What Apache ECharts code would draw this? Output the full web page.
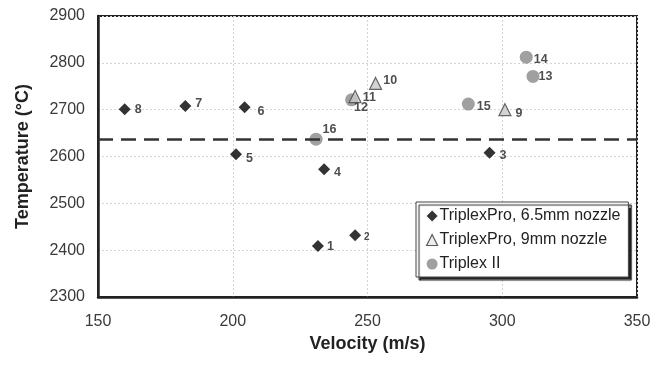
<!DOCTYPE html>
<html>
<head>
<meta charset="utf-8">
<script src="https://cdn.jsdelivr.net/npm/echarts@6/dist/echarts.min.js"></script>
<style>html,body{margin:0;padding:0;background:#fff}#c{width:666px;height:369px}</style>
</head>
<body>
<div id="c"></div>
<script>
// ---- data ----
var seriesNames = ['TriplexPro, 6.5mm nozzle', 'TriplexPro, 9mm nozzle', 'Triplex II'];
var idsA = [1, 2, 3, 4, 5, 6, 7, 8];
var velA = [231.6, 245.4, 295.3, 233.9, 201.2, 204.4, 182.4, 159.9];
var tempA = [2409, 2432, 2608, 2573, 2605, 2705, 2708, 2701];
var idsB = [9, 10, 11];
var velB = [301, 253, 245.4];
var tempB = [2700, 2756, 2728];
var idsC = [12, 13, 14, 15, 16];
var velC = [244.1, 311.4, 308.9, 287.4, 230.9];
var tempC = [2721, 2771, 2812, 2712, 2637];
var thresholdTemp = 2637;
var xTicks = [150, 200, 250, 300, 350];
var yTicks = [2300, 2400, 2500, 2600, 2700, 2800, 2900];

// ---- label placement (styling only) ----
var labelOffset = {
  1: [-1, 1], 2: [-1, 2], 3: [0, 3], 4: [0, 3], 5: [0, 4], 6: [3, 4], 7: [0, -2], 8: [0, 0],
  9: [0, 4], 10: [-3, -3], 11: [-3, 1], 12: [-8, 8], 13: [-5, 0], 14: [-3, 2], 15: [-2, 3], 16: [-4, -10]
};
var labelSize = {2: 10};

function build(ids, vel, temp) {
  return ids.map(function (id, i) {
    return {
      value: [vel[i], temp[i]],
      label: {
        show: true, position: 'right', formatter: String(id),
        offset: labelOffset[id] || [0, 0],
        fontSize: labelSize[id] || 12.5
      }
    };
  });
}

var font = 'Liberation Sans, Arial, sans-serif';
var labelStyle = { color: '#222', fontWeight: 'bold', fontFamily: font, distance: 4 };
var plain = function (v) { return String(v); };

var chart = echarts.init(document.getElementById('c'), null, { renderer: 'canvas' });
chart.setOption({
  animation: false,
  backgroundColor: '#fff',
  grid: { left: 98, right: 29, top: 16, bottom: 72, show: true, borderColor: '#222', borderWidth: 2, backgroundColor: 'transparent' },
  xAxis: {
    type: 'value', min: xTicks[0], max: xTicks[xTicks.length - 1], interval: 50,
    name: 'Velocity (m/s)', nameLocation: 'middle', nameGap: 31,
    nameTextStyle: { fontSize: 18, fontWeight: 'bold', color: '#222', fontFamily: font },
    axisLine: { lineStyle: { color: '#222', width: 2.5 } },
    axisTick: { show: false },
    axisLabel: { fontSize: 16, color: '#3a3a3a', fontFamily: font, margin: 17, formatter: plain },
    splitLine: { show: true, lineStyle: { color: '#d4d4d4', type: [2, 2], width: 1 } }
  },
  yAxis: {
    type: 'value', min: yTicks[0], max: yTicks[yTicks.length - 1], interval: 100,
    name: 'Temperature (°C)', nameLocation: 'middle', nameGap: 66,
    nameTextStyle: { fontSize: 18, fontWeight: 'bold', color: '#222', fontFamily: font },
    axisLine: { show: true, lineStyle: { color: '#222', width: 2.5 } },
    axisTick: { show: false },
    axisLabel: { fontSize: 16, color: '#3a3a3a', fontFamily: font, margin: 13, formatter: plain },
    splitLine: { show: true, lineStyle: { color: '#d4d4d4', type: [2, 2], width: 1 } }
  },
  legend: {
    orient: 'vertical', left: 416, top: 202,
    data: [
      { name: seriesNames[0], itemStyle: { color: '#000' } },
      { name: seriesNames[1], itemStyle: { color: '#e8e8e8', borderColor: '#333', borderWidth: 1.2 } },
      { name: seriesNames[2], itemStyle: { color: '#888' } }
    ],
    backgroundColor: '#fff', borderColor: '#444', borderWidth: 1,
    shadowColor: 'rgba(0,0,0,0.85)', shadowBlur: 1, shadowOffsetX: 3, shadowOffsetY: 3,
    padding: [6, 8, 5, 10],
    itemWidth: 11, itemHeight: 11, itemGap: 8,
    textStyle: { fontSize: 16, color: '#222', fontFamily: font, lineHeight: 16, padding: [0, 0, 0, -3] }
  },
  series: [
    {
      name: seriesNames[0], type: 'scatter', symbol: 'diamond', symbolSize: 12,
      itemStyle: { color: '#000' },
      label: labelStyle,
      data: build(idsA, velA, tempA),
      markLine: {
        silent: true, symbol: 'none', label: { show: false },
        lineStyle: { color: '#333', width: 2.5, type: [15, 8] },
        data: [{ yAxis: thresholdTemp }]
      },
      z: 3
    },
    {
      name: seriesNames[1], type: 'scatter', symbol: 'triangle', symbolSize: 12,
      itemStyle: { color: '#c8c8c8', borderColor: '#444', borderWidth: 1.2 },
      label: labelStyle,
      data: build(idsB, velB, tempB),
      z: 3
    },
    {
      name: seriesNames[2], type: 'scatter', symbol: 'circle', symbolSize: 13,
      itemStyle: { color: '#888' },
      label: labelStyle,
      data: build(idsC, velC, tempC),
      z: 2
    }
  ]
});
</script>
</body>
</html>
